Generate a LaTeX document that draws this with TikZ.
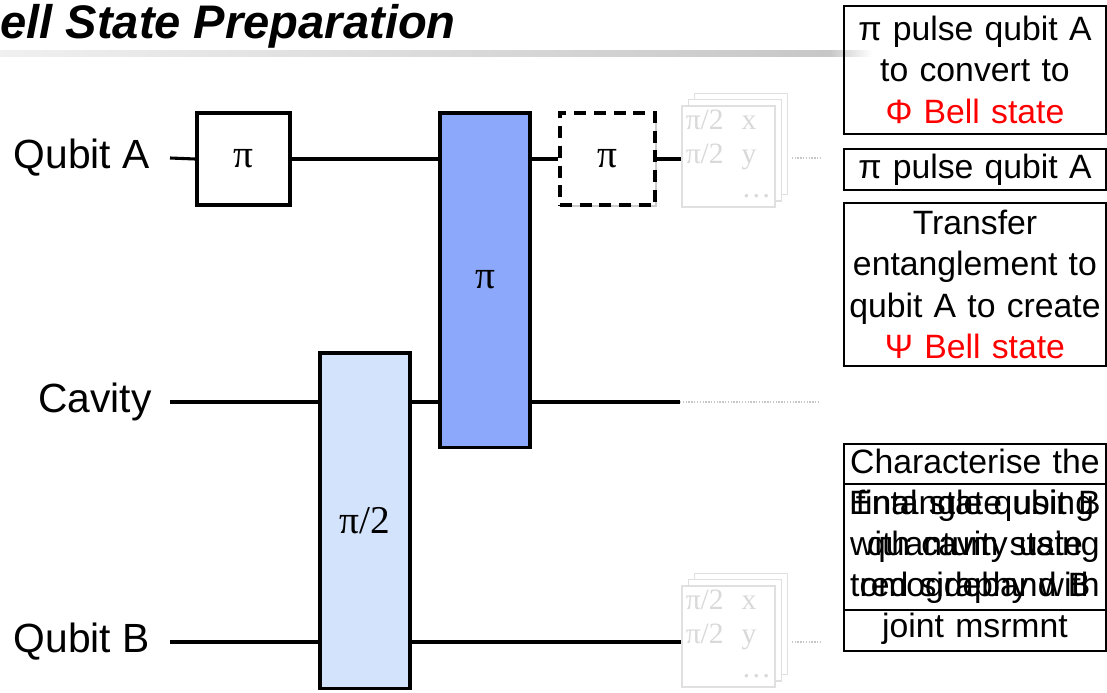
\documentclass[tikz,border=0pt]{standalone}
\usepackage{fontspec}
\setmainfont{Liberation Sans}
\newfontfamily\gatefont{Liberation Serif}
\usetikzlibrary{shadows}

\definecolor{halfpiblue}{RGB}{211,227,251}
\definecolor{piblue}{RGB}{139,168,250}

\begin{document}
\begin{tikzpicture}[x=0.025cm, y=-0.025cm,
  wire/.style={line width=2.2pt},
  fadewire/.style={line width=0.8pt, black!22, dash pattern=on 1pt off 1pt},
  wirelabel/.style={anchor=east, inner sep=0pt, font=\fontsize{29}{34}\selectfont},
  gate/.style={draw, line width=2.2pt, inner sep=0pt,
    font=\gatefont\fontsize{28}{30}\selectfont,
    drop shadow={shadow xshift=1.6pt, shadow yshift=-1.6pt, opacity=0.4}},
  fadegate/.style={draw=black!12, fill=white, line width=1pt, inner sep=0pt,
    minimum width=2.325cm, minimum height=2.175cm, text=black!15,
    font=\gatefont\fontsize{21}{24}\selectfont,
    copy shadow={shadow xshift=9pt, shadow yshift=9pt, draw=black!12, fill=white},
    copy shadow={shadow xshift=4.5pt, shadow yshift=4.5pt, draw=black!12, fill=white}},
  note/.style={draw, line width=1.3pt, anchor=north west, inner sep=0pt,
    text width=6.55cm, align=center, font=\fontsize{24}{29.2}\selectfont}]

  \clip (0,0) rectangle (1107,692);

  % heading and the rule under it
  \node[anchor=base west, inner sep=0pt, font=\fontsize{33.5}{40}\bfseries\itshape]
    (title) at (-34,38) {Bell State Preparation};
  \shade[left color=black!6, right color=black!22] (0,50) rectangle (830,56);
  \shade[left color=black!22, right color=white] (830,50) rectangle (872,56);

  % wire names
  \node[wirelabel] (qa) at (150,158) {Qubit A};
  \node[wirelabel] (cav) at (152,402) {Cavity};
  \node[wirelabel] (qb) at (150,642) {Qubit B};

  % pulses
  \node[gate, fill=white, minimum width=2.325cm, minimum height=2.3cm]
    (pia) at (243.5,159) {π};
  \node[gate, fill=halfpiblue, minimum width=2.25cm, minimum height=8.375cm]
    (ent) at (365,520.5) {π/2};
  \node[gate, fill=piblue, minimum width=2.25cm, minimum height=8.35cm]
    (swap) at (485,280) {π};
  \node[gate, fill=white, drop shadow={opacity=0}, dash pattern=on 8.5pt off 5.5pt,
    minimum width=2.375cm, minimum height=2.3cm] (flip) at (607.5,159) {π};

  % tomography pulses, greyed out
  \node[fadegate] (tomoa) at (728.5,156.5)
    {\begin{tabular}{@{}l@{\hspace{0.45cm}}l@{}}π/2 & x\\ π/2 & y\\ & \dots\end{tabular}};
  \node[fadegate] (tomob) at (728.5,636.5)
    {\begin{tabular}{@{}l@{\hspace{0.45cm}}l@{}}π/2 & x\\ π/2 & y\\ & \dots\end{tabular}};

  \coordinate (enda) at (820,158);
  \coordinate (cavfade) at (680,402);
  \coordinate (endcav) at (820,402);
  \coordinate (endb) at (820,642);

  % qubit A
  \draw[wire] ([xshift=0.5cm]qa.east) -- (pia.west);
  \draw[wire] (pia.east) -- (swap.west |- pia.east);
  \draw[wire] (swap.east |- pia.east) -- (flip.west);
  \draw[wire] (flip.east) -- (tomoa.west |- flip.east);
  \draw[fadewire] (tomoa.east |- enda) ++(0.4cm,0) -- (enda);

  % cavity
  \draw[wire] ([xshift=0.45cm]cav.east) -- (ent.west |- cav.east);
  \draw[wire] (ent.east |- cav.east) -- (swap.west |- cav.east);
  \draw[wire] (swap.east |- cav.east) -- (cavfade);
  \draw[fadewire] (cavfade) -- (endcav);

  % qubit B
  \draw[wire] ([xshift=0.5cm]qb.east) -- (ent.west |- qb.east);
  \draw[wire] (ent.east |- qb.east) -- (tomob.west |- qb.east);
  \draw[fadewire] (tomob.east |- endb) ++(0.4cm,0) -- (endb);

  % notes on the right
  \node[note, minimum height=3.2cm] (phinote) at (843,5)
    {π pulse qubit A\\to convert to\\\textcolor{red}{Φ Bell state}};
  \node[note, minimum height=1.025cm] (pinote) at (843,148) {π pulse qubit A};
  \node[note, minimum height=4.075cm] (psinote) at (843,202)
    {Transfer\\entanglement to\\qubit A to create\\\textcolor{red}{Ψ Bell state}};
  \node[note, minimum height=5.175cm] (tomonote) at (843,443)
    {\strut Characterise the\\final state using\\quantum state\\tomography with\\joint msrmnt\strut};
  \node[note, minimum height=3.15cm] (entnote) at (843,483)
    {\strut Entangle qubit B\\with cavity using\\red sideband B\strut};
\end{tikzpicture}
\end{document}
